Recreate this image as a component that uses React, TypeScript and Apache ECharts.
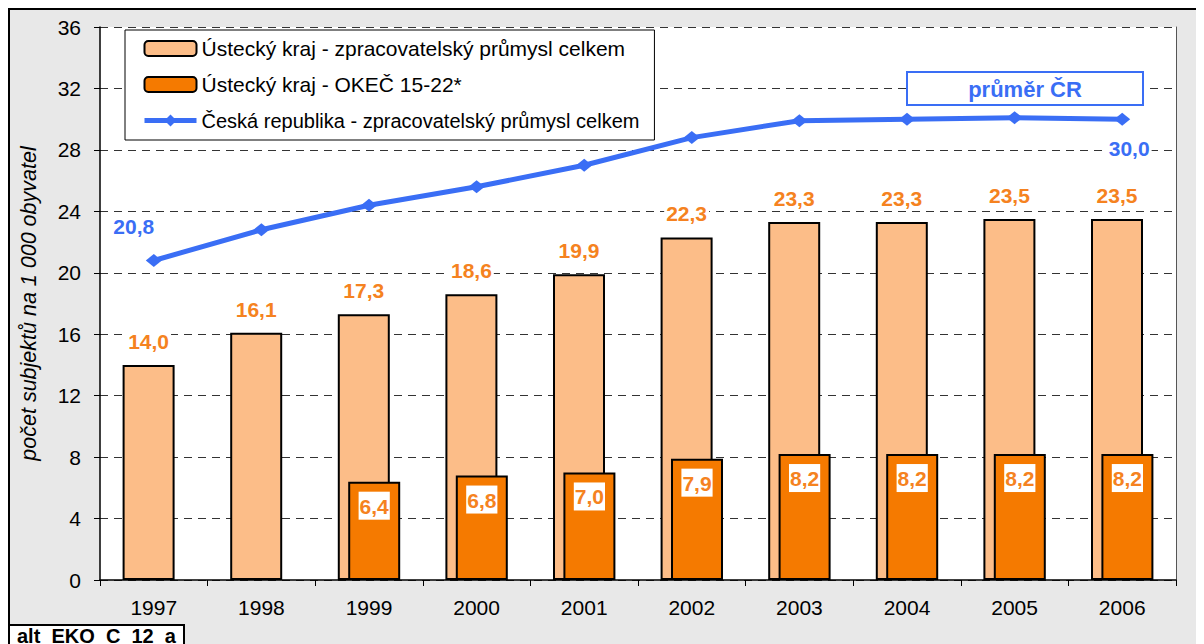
import React, { useEffect, useRef } from "react";
import * as echarts from "echarts";

const years = ["1997", "1998", "1999", "2000", "2001", "2002", "2003", "2004", "2005", "2006"];
const usteckyTotal = [14.0, 16.1, 17.3, 18.6, 19.9, 22.3, 23.3, 23.3, 23.5, 23.5];
const usteckyOkec = [null, null, 6.4, 6.8, 7.0, 7.9, 8.2, 8.2, 8.2, 8.2];
const czechTotal = [20.8, 22.8, 24.4, 25.6, 27.0, 28.8, 29.9, 30.0, 30.1, 30.0];
const seriesNames = [
  "Ústecký kraj - zpracovatelský průmysl celkem",
  "Ústecký kraj - OKEČ 15-22*",
  "Česká republika - zpracovatelský průmysl celkem",
];

const FONT = "'Liberation Sans', Arial, sans-serif";
const ORANGE_TEXT = "#F58220";
const BLUE = "#3A6EF5";
const FS = 21;

const fmt = (v: number) => v.toFixed(1).replace(".", ",");

export default function App() {
  const ref = useRef<HTMLDivElement>(null);
  useEffect(() => {
    if (!ref.current) return;
    const chart = echarts.init(ref.current, undefined, { renderer: "svg" });
    const lastIdx = czechTotal.length - 1;
    chart.setOption({
      animation: false,
      backgroundColor: "#E8E8E8",
      textStyle: { fontFamily: FONT },
      grid: { left: 92, top: 19, right: 28, bottom: 64, containLabel: false, show: true, backgroundColor: "#fff", borderWidth: 0 },
      legend: {
        orient: "vertical",
        left: 117,
        top: 22,
        backgroundColor: "#fff",
        borderColor: "#000",
        borderWidth: 1,
        padding: [8, 15, 9, 17],
        itemWidth: 52,
        itemHeight: 15,
        itemGap: 15,
        textStyle: { fontSize: FS, color: "#000", fontFamily: FONT, lineHeight: 21 },
        data: [
          { name: seriesNames[0] },
          { name: seriesNames[1] },
          {
            name: seriesNames[2],
            lineStyle: { width: 5, color: BLUE },
            textStyle: { fontSize: 20, color: "#000", fontFamily: FONT, lineHeight: 21 },
          },
        ],
      },
      xAxis: {
        type: "category",
        data: years,
        boundaryGap: true,
        axisLine: { lineStyle: { color: "#000", width: 1.5 } },
        axisTick: { show: true, length: 6, lineStyle: { color: "#000" } },
        axisLabel: { fontSize: FS, color: "#000", margin: 17, fontFamily: FONT },
      },
      yAxis: [
        {
          type: "value",
          min: 0,
          max: 36,
          interval: 4,
          name: "počet subjektů na 1 000 obyvatel",
          nameLocation: "middle",
          nameGap: 60,
          nameTextStyle: { fontSize: 21.5, fontStyle: "italic", color: "#000", fontFamily: FONT },
          axisLine: { show: true, lineStyle: { color: "#000", width: 1.5 } },
          axisTick: { show: true, length: 6, lineStyle: { color: "#000" } },
          axisLabel: { fontSize: FS, color: "#000", margin: 19, fontFamily: FONT },
          splitLine: { show: true, lineStyle: { color: "#333", type: [8, 6], width: 1 } },
        },
        {
          type: "value",
          min: 0,
          max: 36,
          interval: 4,
          position: "right",
          axisLine: { show: true, lineStyle: { color: "#555", width: 1 } },
          axisTick: { show: false },
          axisLabel: { show: false },
          splitLine: { show: false },
        },
      ],
      series: [
        {
          name: seriesNames[0],
          type: "bar",
          data: usteckyTotal,
          barWidth: 52,
          barGap: "-80%",
          itemStyle: { color: "#FCBD88", borderColor: "#000", borderWidth: 2 },
          label: {
            show: true,
            position: "top",
            distance: 13,
            color: ORANGE_TEXT,
            backgroundColor: "#fff",
            padding: [1, 2, 0, 2],
            fontWeight: "bold",
            fontSize: FS,
            fontFamily: FONT,
            formatter: (p: any) => fmt(p.value),
          },
        },
        {
          name: seriesNames[1],
          type: "bar",
          data: usteckyOkec,
          barWidth: 52,
          itemStyle: { color: "#F57A00", borderColor: "#000", borderWidth: 2 },
          label: {
            show: true,
            position: "insideTop",
            distance: 10,
            color: ORANGE_TEXT,
            backgroundColor: "#fff",
            padding: [4, 1, 3, 1],
            fontWeight: "bold",
            fontSize: FS,
            fontFamily: FONT,
            formatter: (p: any) => (p.value == null ? "" : fmt(p.value)),
          },
        },
        {
          name: seriesNames[2],
          type: "line",
          data: czechTotal.map((v, i) => {
            if (i === 0)
              return { value: v, label: { show: true, position: "top", offset: [-20, -12] } };
            if (i === lastIdx)
              return { value: v, label: { show: true, position: "bottom", offset: [7, 6] } };
            return v;
          }),
          symbol: "diamond",
          symbolSize: [16, 13],
          lineStyle: { color: BLUE, width: 5 },
          itemStyle: { color: BLUE },
          z: 5,
          label: {
            show: false,
            color: BLUE,
            backgroundColor: "#fff",
            padding: [1, 2, 0, 2],
            fontWeight: "bold",
            fontSize: FS,
            fontFamily: FONT,
            formatter: (p: any) => fmt(p.value),
          },
        },
      ],
      graphic: [
        { type: "line", shape: { x1: 0, y1: 1, x2: 1196, y2: 1 }, style: { stroke: "#000", lineWidth: 2 } },
        { type: "line", shape: { x1: 1, y1: 0, x2: 1, y2: 636 }, style: { stroke: "#000", lineWidth: 2 } },
        {
          type: "rect",
          shape: { x: 899, y: 64, width: 236, height: 33 },
          style: { fill: "#fff", stroke: BLUE, lineWidth: 2 },
          z: 10,
        },
        {
          type: "text",
          x: 1017,
          y: 81,
          z: 11,
          style: {
            text: "průměr ČR",
            fill: BLUE,
            font: `bold 22px ${FONT}`,
            textAlign: "center",
            textVerticalAlign: "middle",
          },
        },
        {
          type: "rect",
          shape: { x: 1, y: 617, width: 175, height: 30 },
          style: { fill: "#fff", stroke: "#000", lineWidth: 2 },
          z: 10,
        },
        {
          type: "text",
          x: 9,
          y: 618,
          z: 11,
          style: {
            text: "alt_EKO_C_12_a",
            fill: "#000",
            font: `bold 20px ${FONT}`,
            textAlign: "left",
            textVerticalAlign: "top",
          },
        },
      ],
    });
    return () => chart.dispose();
  }, []);
  return <div ref={ref} style={{ width: 1196, height: 636 }} />;
}
